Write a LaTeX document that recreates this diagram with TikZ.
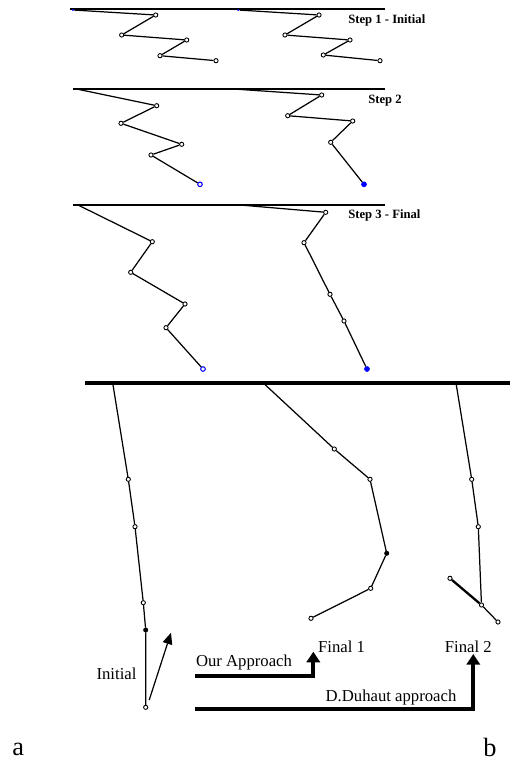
\documentclass[tikz,border=0pt]{standalone}
\usepackage{fontspec}
\setmainfont{Liberation Serif}
\usetikzlibrary{arrows.meta}
\tikzset{
    joint/.style = {circle, draw=black, fill=white, line width=0.5pt, inner sep=0pt, minimum size=2.4pt},
    hinge/.style = {circle, draw=black, fill=black, inner sep=0pt, minimum size=2.4pt},
    tipopen/.style = {circle, draw=blue, fill=white, line width=0.6pt, inner sep=0pt, minimum size=2.6pt},
    tipfull/.style = {circle, draw=blue, fill=blue, inner sep=0pt, minimum size=2.8pt},
    base/.style = {circle, fill=blue, inner sep=0pt, minimum size=1.2pt},
    link/.style = {line width=0.7pt},
    ground/.style = {line width=1pt},
    floor/.style = {line width=1.9pt},
    bigarrow/.style = {line width=2.3pt, -{Triangle[width=7.5pt,length=6pt]}},
    smallarrow/.style = {line width=0.7pt, -{Triangle[width=5.5pt,length=6.5pt]}},
    caption/.style = {font=\fontsize{9.5}{11}\selectfont, inner sep=0pt},
    steplabel/.style = {font=\bfseries\fontsize{7.2}{8}\selectfont, anchor=west, inner sep=0pt}
}

\begin{document}
\begin{tikzpicture}[x=0.02cm, y=-0.02cm]
    \useasboundingbox (0,0) rectangle (510,765);

    % Step 1 - Initial
    \draw [ground] (70,9.3) -- (385,9.3);
    \node (sa0) [base] at (73,10) {};
    \node (sa1) [joint] at (155.7,15) {};
    \node (sa2) [joint] at (121.7,35) {};
    \node (sa3) [joint] at (186.7,40) {};
    \node (sa4) [joint] at (160,55.7) {};
    \node (sa5) [joint] at (216,60.7) {};
    \node (sb0) [base] at (238.3,10) {};
    \node (sb1) [joint] at (319,15) {};
    \node (sb2) [joint] at (285,35) {};
    \node (sb3) [joint] at (350,40) {};
    \node (sb4) [joint] at (323.3,55) {};
    \node (sb5) [joint] at (380,60.7) {};
    \draw [link] (sa0) -- (sa1) -- (sa2) -- (sa3) -- (sa4) -- (sa5);
    \draw [link] (sb0) -- (sb1) -- (sb2) -- (sb3) -- (sb4) -- (sb5);
    \node (step1) [steplabel] at (348,20) {Step 1 - Initial};

    % Step 2
    \draw [ground] (73,89.3) -- (385,89.3);
    \coordinate (ta0) at (78,89.3);
    \node (ta1) [joint] at (156.7,105.7) {};
    \node (ta2) [joint] at (121,123.3) {};
    \node (ta3) [joint] at (181.7,144.3) {};
    \node (ta4) [joint] at (151,155) {};
    \node (ta5) [tipopen] at (200,184.3) {};
    \coordinate (tb0) at (238,89.3);
    \node (tb1) [joint] at (321.7,95) {};
    \node (tb2) [joint] at (287.7,115.7) {};
    \node (tb3) [joint] at (352.7,121) {};
    \node (tb4) [joint] at (330.7,142.3) {};
    \node (tb5) [tipfull] at (364,184.3) {};
    \draw [link] (ta0) -- (ta1) -- (ta2) -- (ta3) -- (ta4) -- (ta5);
    \draw [link] (tb0) -- (tb1) -- (tb2) -- (tb3) -- (tb4) -- (tb5);
    \node (step2) [steplabel] at (368,100.7) {Step 2};

    % Step 3 - Final
    \draw [ground] (73,205) -- (385,205);
    \coordinate (ua0) at (78,205);
    \node (ua1) [joint] at (152.3,241.7) {};
    \node (ua2) [joint] at (130.7,272.3) {};
    \node (ua3) [joint] at (185,304) {};
    \node (ua4) [joint] at (166,327.7) {};
    \node (ua5) [tipopen] at (203,369) {};
    \coordinate (ub0) at (240,205);
    \node (ub1) [joint] at (325.7,212.3) {};
    \node (ub2) [joint] at (304,242.7) {};
    \node (ub3) [joint] at (330,294.3) {};
    \node (ub4) [joint] at (344,321) {};
    \node (ub5) [tipfull] at (367,369) {};
    \draw [link] (ua0) -- (ua1) -- (ua2) -- (ua3) -- (ua4) -- (ua5);
    \draw [link] (ub0) -- (ub1) -- (ub2) -- (ub3) -- (ub4) -- (ub5);
    \node (step3) [steplabel] at (348,215.7) {Step 3 - Final};

    % comparison
    \draw [floor] (85,383) -- (510,383);
    \coordinate (ia0) at (112.7,383);
    \node (ia1) [joint] at (128.3,479.3) {};
    \node (ia2) [joint] at (135,526.7) {};
    \node (ia3) [joint] at (143.3,602.7) {};
    \node (ia4) [hinge] at (145.7,630) {};
    \node (ia5) [joint] at (145.7,707.3) {};
    \draw [link] (ia0) -- (ia1) -- (ia2) -- (ia3) -- (ia4) -- (ia5);
    \coordinate (lift) at (171,632.7);
    \draw [smallarrow] (ia5) ++(3.5,-7.3) -- (lift);

    \coordinate (fa0) at (263.3,383);
    \node (fa1) [joint] at (334.3,449) {};
    \node (fa2) [joint] at (370,479.3) {};
    \node (fa3) [hinge] at (386.7,553.3) {};
    \node (fa4) [joint] at (370.7,588.3) {};
    \node (fa5) [joint] at (311,618.3) {};
    \draw [link] (fa0) -- (fa1) -- (fa2) -- (fa3) -- (fa4) -- (fa5);

    \coordinate (fb0) at (456,383);
    \node (fb1) [joint] at (471.7,479.3) {};
    \node (fb2) [joint] at (478.3,526.7) {};
    \node (fb3) [joint] at (481.5,605) {};
    \node (fb4) [joint] at (450,578.3) {};
    \node (fb5) [joint] at (498,622) {};
    \draw [link] (fb0) -- (fb1) -- (fb2) -- (fb3);
    \draw [line width=1.3pt] (fb4) -- (fb3);
    \draw [link] (fb3) -- (fb5);

    \node (initial) [caption] at (116.5,674) {Initial};
    \node (final1) [caption] at (341.5,647) {Final 1};
    \node (final2) [caption] at (468.3,647) {Final 2};
    \node (ours) [caption] at (244,662) {Our Approach};
    \node (duhaut) [caption] at (391,697) {D.Duhaut approach};

    \coordinate (ours start) at (195,675.7);
    \coordinate (ours end) at (313.3,651.7);
    \coordinate (duhaut start) at (195,709.3);
    \coordinate (duhaut end) at (473.3,654);
    \draw [bigarrow] (ours start) -| (ours end);
    \draw [bigarrow] (duhaut start) -| (duhaut end);

    \node (a) [font=\fontsize{15}{17}\selectfont] at (18.3,749) {a};
    \node (b) [font=\fontsize{15}{17}\selectfont] at (490,747) {b};
\end{tikzpicture}
\end{document}
